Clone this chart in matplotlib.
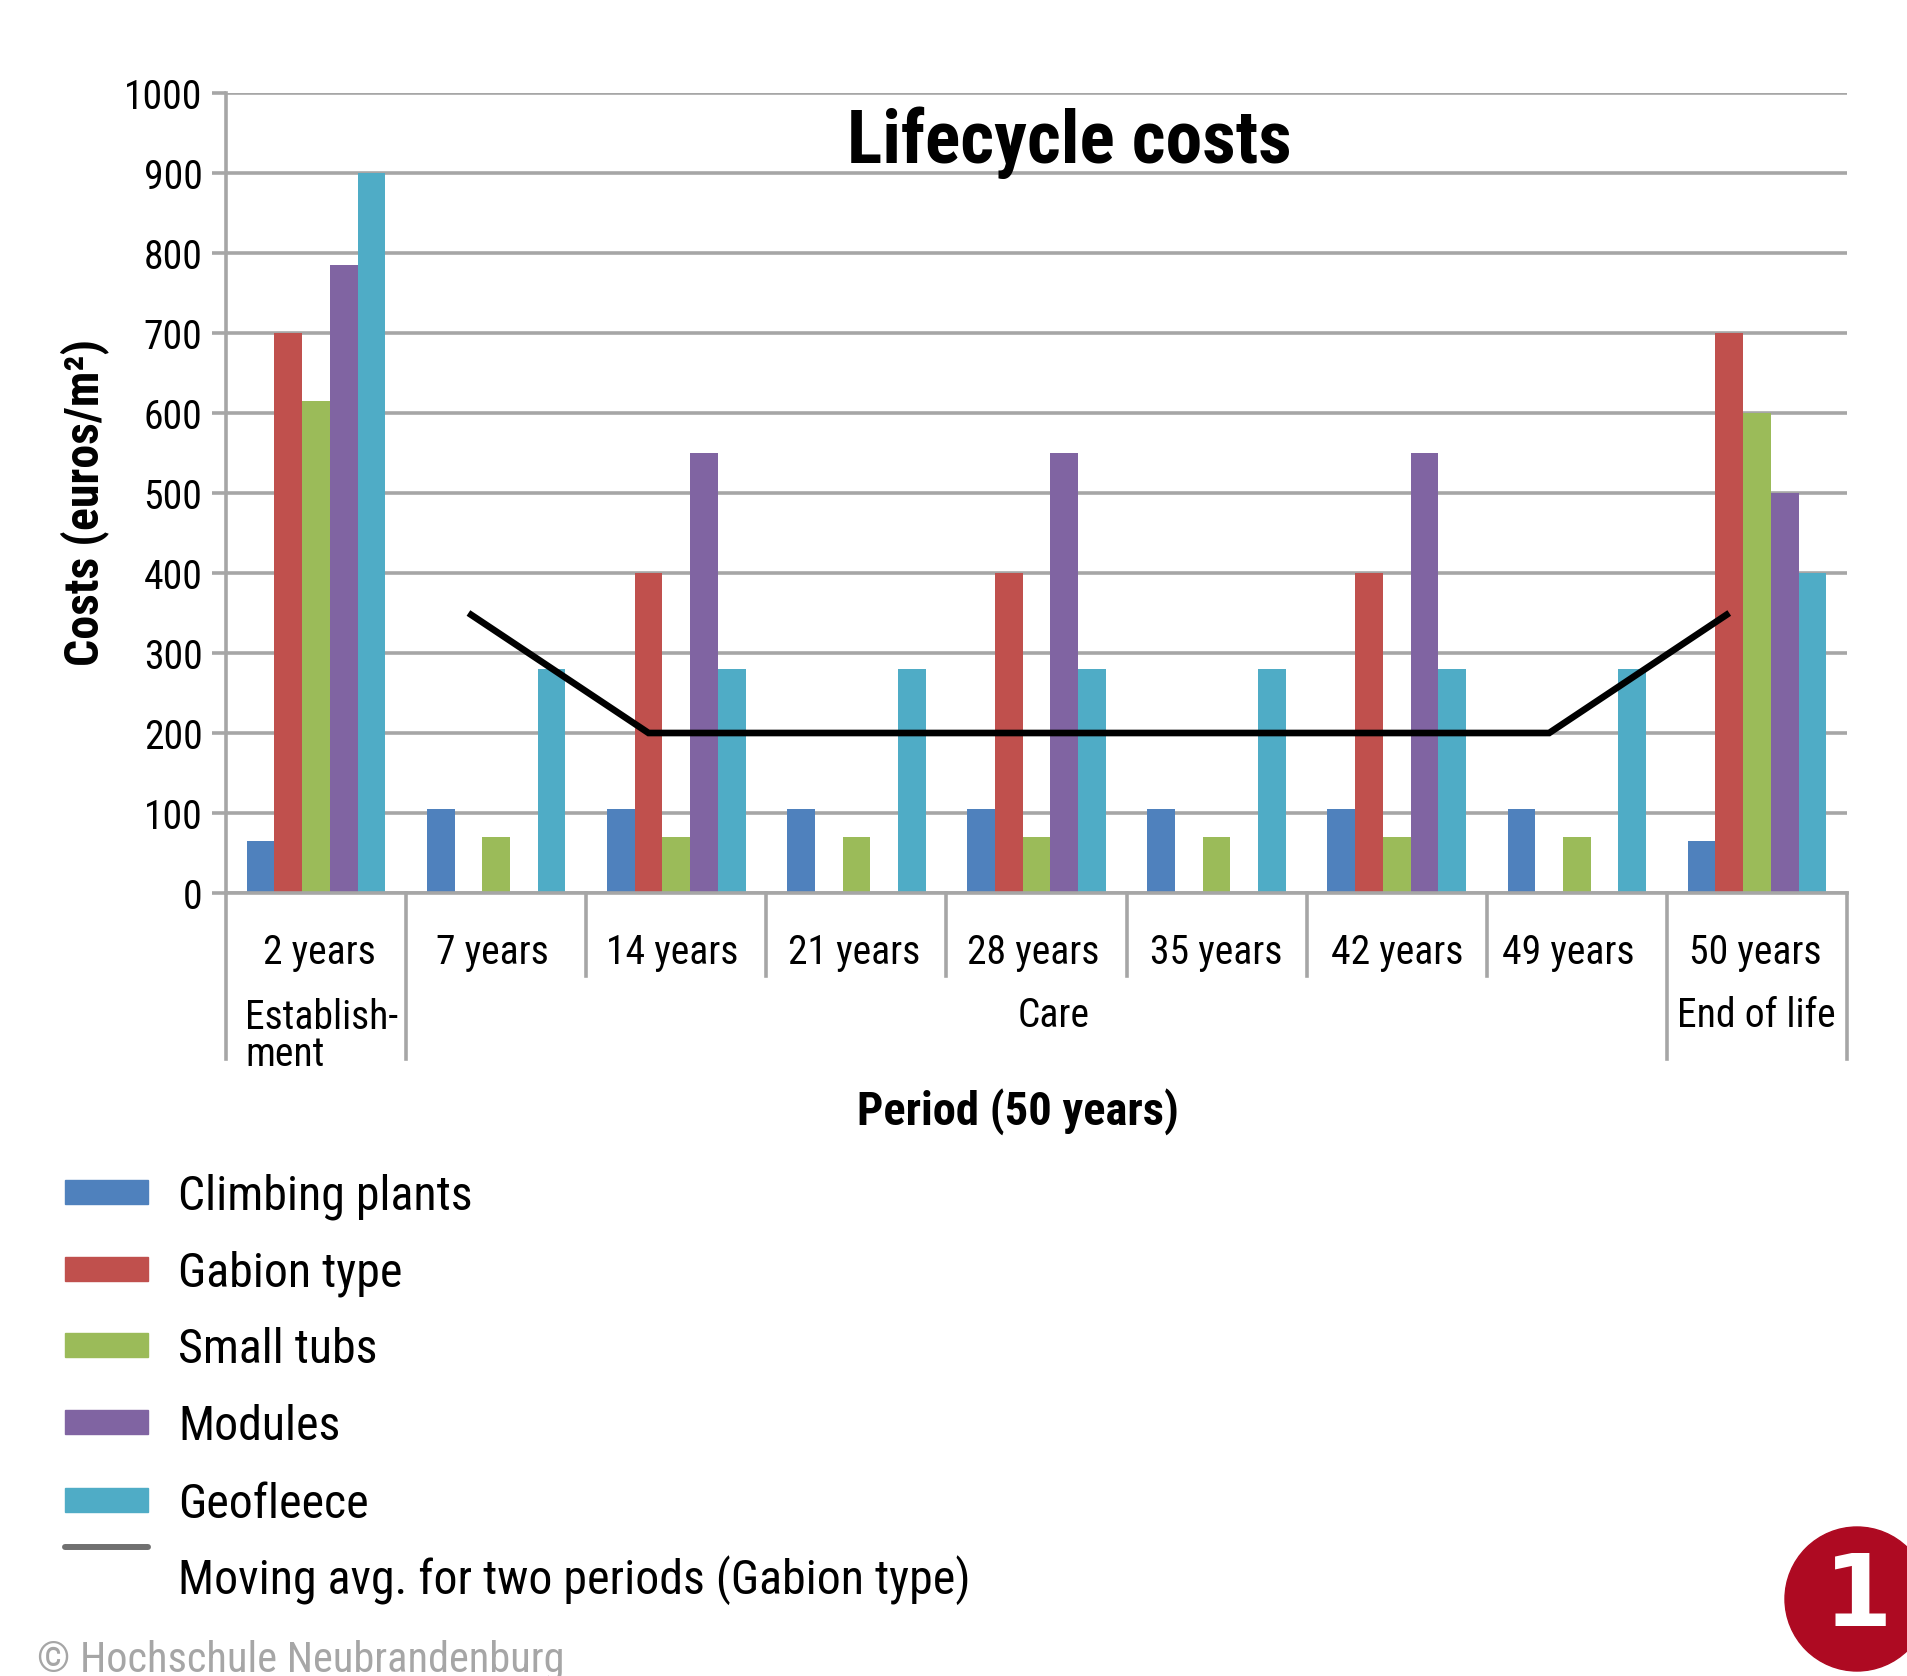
import numpy as np
import matplotlib
matplotlib.use('Agg')
import matplotlib.pyplot as plt
from matplotlib.patches import Rectangle, Circle
from matplotlib.lines import Line2D

plt.rcParams['font.family'] = ['Roboto Condensed', 'Roboto', 'DejaVu Sans']

# data
periods = ['2 years', '7 years', '14 years', '21 years', '28 years',
           '35 years', '42 years', '49 years', '50 years']
climbing = [65, 105, 105, 105, 105, 105, 105, 105, 65]
gabion = [700, 0, 400, 0, 400, 0, 400, 0, 700]
tubs = [615, 70, 70, 70, 70, 70, 70, 70, 600]
modules = [785, 0, 550, 0, 550, 0, 550, 0, 500]
geofleece = [900, 280, 280, 280, 280, 280, 280, 280, 400]
moving_avg = [350, 200, 200, 200, 200, 200, 200, 350]

series_names = ['Climbing plants', 'Gabion type', 'Small tubs', 'Modules', 'Geofleece']
series_vals = [climbing, gabion, tubs, modules, geofleece]
colors = ['#4f81bd', '#c0504d', '#9bbb59', '#8064a2', '#4facc6']
line_name = 'Moving avg. for two periods (Gabion type)'
yticks = list(range(0, 1100, 100))

W, H = 1908, 1676
GRAY = '#a6a6a6'
LW = 3.6 * 72 / 100


def fx(px):
    return px / W


def fy(py):
    return 1 - py / H


fig = plt.figure(figsize=(W / 100, H / 100), dpi=100, facecolor='white')
ax = fig.add_axes([fx(226), fy(893), (1847 - 226) / W, (893 - 93) / H])
ax.set_xlim(0, 9)
ax.set_ylim(0, 1000)

# bars
x = np.arange(9)
bar_w = 1 / 6.5
for i, vals in enumerate(series_vals):
    ax.bar(x + 0.5 + (i - 2) * bar_w, vals, bar_w, color=colors[i], zorder=3)

# trend line sits one bar to the left of the group centres
ax.plot(x[1:] + 0.5 - bar_w, moving_avg, color='black', lw=4.8, zorder=4,
        solid_joinstyle='miter', solid_capstyle='butt')

ax.set_yticks(yticks)
ax.set_xticks([])
ax.tick_params(axis='y', length=10, width=LW, color=GRAY, labelsize=28.5, pad=7)
ax.grid(axis='y', color=GRAY, lw=LW, zorder=1)
for s in ['top', 'right', 'bottom']:
    ax.spines[s].set_visible(False)
ax.spines['left'].set_color(GRAY)
ax.spines['left'].set_linewidth(LW)
ax.axhline(0, color=GRAY, lw=LW, zorder=5, clip_on=False)

# two level category axis
trans = ax.get_xaxis_transform()
for b in range(10):
    bottom = -0.207 if b in (0, 1, 8, 9) else -0.104
    ax.add_line(Line2D([b, b], [0, bottom], transform=trans, color=GRAY,
                       lw=LW, clip_on=False))
# the labels are not quite centred in the reference
label_shift = [0.02, -0.02, -0.02, -0.01, -0.02, 0, 0, -0.05, -0.01]
for i, p in enumerate(periods):
    ax.text(i + 0.5 + label_shift[i], -0.0745, p, transform=trans, ha='center',
            va='center', fontsize=28.5)

fig.text(fx(245), fy(1036), 'Establish-\nment', ha='left', va='center',
         fontsize=28.5, linespacing=0.95)
fig.text(fx(1054), fy(1015), 'Care', ha='center', va='center', fontsize=28.5)
fig.text(fx(1756), fy(1015), 'End of life', ha='center', va='center', fontsize=28.5)

# titles
fig.text(fx(1069), fy(143), 'Lifecycle costs', ha='center', va='center',
         fontsize=53, fontweight='bold')
fig.text(fx(85), fy(502), 'Costs (euros/m²)', ha='center', va='center', rotation=90,
         fontsize=34.5, fontweight='bold')
fig.text(fx(1018), fy(1112), 'Period (50 years)', ha='center', va='center',
         fontsize=33.5, fontweight='bold')

# legend
rows = [1192, 1269, 1345, 1422, 1500]
for py, name, c in zip(rows, series_names, colors):
    fig.add_artist(Rectangle((fx(65), fy(py + 12)), 83 / W, 24 / H, color=c,
                             transform=fig.transFigure))
    fig.text(fx(178), fy(py + 5), name, ha='left', va='center', fontsize=34.5)
fig.add_artist(Line2D([fx(65), fx(148)], [fy(1547), fy(1547)], color='#707070', lw=4.3,
                      transform=fig.transFigure, solid_capstyle='round'))
fig.text(fx(178), fy(1580), line_name, ha='left', va='center', fontsize=34.5)

fig.text(fx(37), fy(1660), '© Hochschule Neubrandenburg', ha='left', va='center',
         fontsize=30.5, color=GRAY)

# badge
fig.add_artist(Circle((1857, H - 1599), 72, color='#ae0a22', transform=None))
fig.text(fx(1858), fy(1598), '1', ha='center', va='center', color='white',
         fontsize=71, fontweight='bold', family='DejaVu Sans')

fig.savefig('out.png', dpi=100)
